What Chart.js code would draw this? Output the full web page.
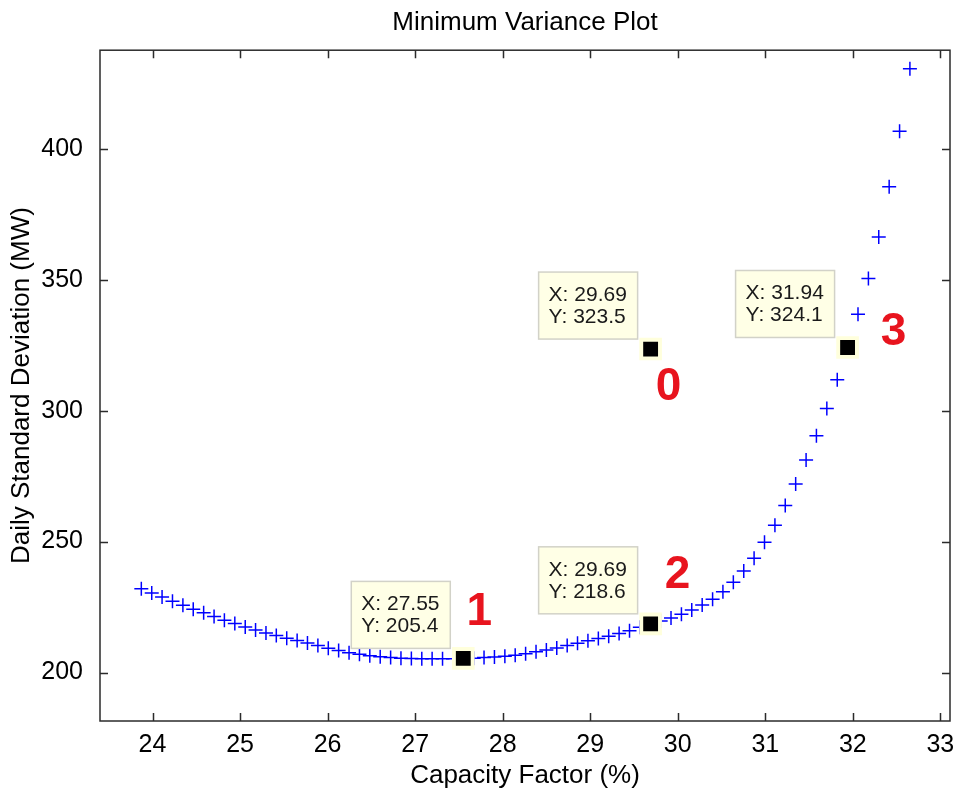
<!DOCTYPE html>
<html>
<head>
<meta charset="utf-8">
<title>Minimum Variance Plot</title>
<script src="https://cdn.jsdelivr.net/npm/chart.js@4.4.1/dist/chart.umd.min.js"></script>
<style>
  html, body { margin: 0; padding: 0; background: #fff; }
  canvas { display: block; }
</style>
</head>
<body>
<canvas id="mvChart" width="957" height="791"></canvas>
<script>
// frontier points
const capacityFactor = [
  23.872, 23.991, 24.109, 24.228, 24.347, 24.465, 24.584, 24.703, 24.821, 24.940,
  25.059, 25.177, 25.296, 25.414, 25.533, 25.652, 25.770, 25.889, 26.008, 26.126,
  26.245, 26.364, 26.482, 26.601, 26.720, 26.838, 26.957, 27.076, 27.194, 27.313,
  27.432, 27.550, 27.669, 27.787, 27.906, 28.025, 28.143, 28.262, 28.381, 28.499,
  28.618, 28.737, 28.855, 28.974, 29.093, 29.211, 29.330, 29.449, 29.567, 29.686,
  29.805, 29.923, 30.042, 30.160, 30.279, 30.398, 30.516, 30.635, 30.754, 30.872,
  30.991, 31.110, 31.228, 31.347, 31.466, 31.584, 31.703, 31.822, 31.940, 32.059,
  32.178, 32.296, 32.415, 32.534, 32.652
];
const dailyStd = [
  232.0, 230.4, 228.8, 227.2, 225.7, 224.2, 222.8, 221.4, 220.0, 218.7,
  217.4, 216.2, 215.1, 214.1, 213.1, 212.2, 211.3, 210.3, 209.3, 208.4,
  207.6, 207.0, 206.4, 206.0, 205.7, 205.5, 205.4, 205.3, 205.3, 205.3,
  205.3, 205.4, 205.5, 205.7, 205.9, 206.2, 206.6, 207.2, 207.9, 208.6,
  209.4, 210.3, 211.2, 212.1, 213.0, 213.9, 214.9, 216.0, 217.3, 218.6,
  219.7, 220.8, 222.3, 223.9, 225.8, 228.0, 230.8, 234.5, 238.8, 243.6,
  249.7, 256.2, 263.8, 272.0, 281.1, 290.4, 300.8, 311.8, 324.1, 336.8,
  350.4, 366.3, 385.5, 406.7, 430.5
];

// data tips
const tipNames = ["0", "1", "2", "3"];
const tipX = [29.69, 27.55, 29.69, 31.94];
const tipY = [323.5, 205.4, 218.6, 324.1];

const xTicks = [24, 25, 26, 27, 28, 29, 30, 31, 32, 33];
const yTicks = [200, 250, 300, 350, 400];

// where the red number sits relative to its point (px)
const nameOffset = [[18, 38], [16, -46], [27, -49], [46, -15]];

const FONT = "'Liberation Sans', Arial, Helvetica, sans-serif";

const frontierPts = capacityFactor.map((v, i) => ({ x: v, y: dailyStd[i] }));
const tipPts = tipX.map((v, i) => ({ x: v, y: tipY[i] }));

const frameAndTips = {
  id: "frameAndTips",
  afterDatasetsDraw(chart) {
    const { ctx, chartArea: a, scales } = chart;
    const x = scales.x, y = scales.y;
    ctx.save();

    // box + inward ticks on all sides
    ctx.strokeStyle = "#2b2b2b";
    ctx.lineWidth = 1.5;
    ctx.strokeRect(a.left, a.top, a.right - a.left, a.bottom - a.top);
    ctx.beginPath();
    xTicks.forEach(v => {
      const px = Math.round(x.getPixelForValue(v)) + 0.5;
      ctx.moveTo(px, a.bottom); ctx.lineTo(px, a.bottom - 8);
      ctx.moveTo(px, a.top); ctx.lineTo(px, a.top + 8);
    });
    yTicks.forEach(v => {
      const py = Math.round(y.getPixelForValue(v)) + 0.5;
      ctx.moveTo(a.left, py); ctx.lineTo(a.left + 8, py);
      ctx.moveTo(a.right, py); ctx.lineTo(a.right - 8, py);
    });
    ctx.stroke();

    // tip boxes
    tipX.forEach((v, i) => {
      const px = x.getPixelForValue(v);
      const py = y.getPixelForValue(tipY[i]);
      const w = 99, h = 67;
      const r = px - 13, b = py - 10;
      ctx.fillStyle = "#ffffe6";
      ctx.fillRect(r - w, b - h, w, h);
      ctx.strokeStyle = "#d2d2c8";
      ctx.lineWidth = 1.5;
      ctx.strokeRect(r - w, b - h, w, h);
      ctx.fillStyle = "#1a1a1a";
      ctx.font = "21px " + FONT;
      ctx.textAlign = "left";
      ctx.textBaseline = "middle";
      ctx.fillText("X: " + v.toFixed(2), r - w + 10, b - 44);
      ctx.fillText("Y: " + tipY[i].toFixed(1), r - w + 10, b - 22);

      ctx.fillStyle = "#e8141e";
      ctx.font = "bold 46px " + FONT;
      ctx.textAlign = "center";
      ctx.fillText(tipNames[i], px + nameOffset[i][0], py + nameOffset[i][1]);
    });
    ctx.restore();
  }
};

new Chart(document.getElementById("mvChart"), {
  type: "scatter",
  data: {
    datasets: [
      {
        label: "Frontier",
        data: frontierPts,
        pointStyle: "cross",
        pointRadius: 7,
        borderColor: "#0000ff",
        backgroundColor: "#0000ff",
        borderWidth: 1.5,
        order: 3
      },
      {
        label: "Tip halo",
        data: tipPts,
        pointStyle: "rect",
        pointRadius: 16,
        backgroundColor: "#ffffdc",
        borderWidth: 0,
        order: 2
      },
      {
        label: "Tip",
        data: tipPts,
        pointStyle: "rect",
        pointRadius: 10.5,
        backgroundColor: "#000000",
        borderWidth: 0,
        order: 1
      }
    ]
  },
  options: {
    responsive: false,
    animation: false,
    events: [],
    layout: { autoPadding: false, padding: { left: 0, right: 7, top: 0, bottom: 0 } },
    plugins: {
      legend: { display: false },
      tooltip: { enabled: false },
      title: {
        display: true,
        fullSize: false,
        text: "Minimum Variance Plot",
        color: "#000",
        font: { family: FONT, size: 26, weight: "normal" },
        padding: { top: 7, bottom: 12 }
      }
    },
    scales: {
      x: {
        type: "linear",
        min: 23.4,
        max: 33.11,
        grid: { display: false, drawTicks: false },
        border: { display: false },
        afterBuildTicks: s => { s.ticks = xTicks.map(v => ({ value: v })); },
        afterFit: s => { s.height = 70; s.paddingLeft = 0; s.paddingRight = 0; },
        ticks: {
          color: "#000",
          font: { family: FONT, size: 25 },
          padding: 9,
          maxRotation: 0
        },
        title: {
          display: true,
          text: "Capacity Factor (%)",
          color: "#000",
          font: { family: FONT, size: 26 },
          padding: { top: 0, bottom: 0 }
        }
      },
      y: {
        type: "linear",
        min: 181.5,
        max: 437.6,
        grid: { display: false, drawTicks: false },
        border: { display: false },
        afterBuildTicks: s => { s.ticks = yTicks.map(v => ({ value: v })); },
        afterFit: s => { s.width = 100; s.paddingTop = 0; s.paddingBottom = 0; },
        ticks: {
          color: "#000",
          font: { family: FONT, size: 25 },
          padding: 17
        },
        title: {
          display: true,
          text: "Daily Standard Deviation (MW)",
          color: "#000",
          font: { family: FONT, size: 26 },
          padding: { top: 6, bottom: 0 }
        }
      }
    }
  },
  plugins: [frameAndTips]
});
</script>
</body>
</html>
